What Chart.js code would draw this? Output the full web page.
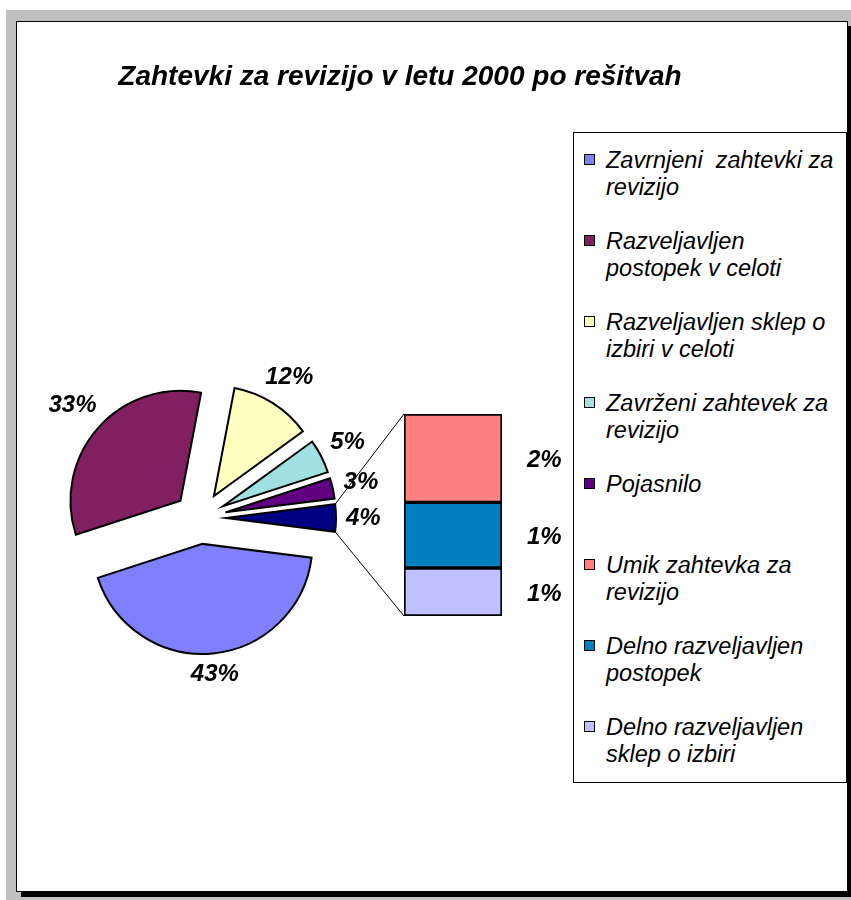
<!DOCTYPE html>
<html>
<head>
<meta charset="utf-8">
<script src="https://cdn.jsdelivr.net/npm/chart.js@4.4.1/dist/chart.umd.min.js"></script>
<style>
    html, body {
        margin: 0;
        padding: 0;
        width: 851px;
        height: 900px;
        overflow: hidden;
        background: #fff;
        font-family: 'Liberation Sans', Arial, sans-serif;
    }
    .backdrop {
        position: absolute;
        left: 6px;
        top: 10px;
        width: 845px;
        height: 890px;
        background: #c0c0c0;
    }
    .sheet {
        position: absolute;
        left: 16px;
        top: 21px;
        width: 830px;
        height: 869px;
        border: 1px solid #000;
        background: #fff;
        box-shadow: 5px 5px 0 #000;
    }
    .sheet canvas {
        position: absolute;
        left: 0;
        top: 0;
    }
    .title {
        position: absolute;
        left: 0;
        top: 38px;
        width: 766px;
        text-align: center;
        font-size: 28px;
        line-height: 32px;
        font-weight: bold;
        font-style: italic;
    }
    .legend {
        position: absolute;
        left: 556px;
        top: 110px;
        width: 272px;
        height: 649px;
        border: 1px solid #000;
        background: #fff;
    }
    .legend-item {
        position: relative;
        height: 81px;
        box-sizing: border-box;
        padding: 14px 0 0 32px;
        font-size: 23.5px;
        line-height: 27px;
        font-style: italic;
        white-space: pre;
    }
    .legend-item .box {
        position: absolute;
        left: 10px;
        top: 21px;
        width: 9px;
        height: 9px;
        border: 1.5px solid #000;
    }
</style>
</head>
<body>
<div class="backdrop"></div>
<div class="sheet">
    <canvas id="pieChart" width="830" height="869"></canvas>
    <canvas id="barChart" width="830" height="869"></canvas>
    <div class="title" id="title"></div>
    <div class="legend" id="legend"></div>
</div>
<script>
const chartTitle = 'Zahtevki za revizijo v letu 2000 po rešitvah';

// main pie slices (the last pie slice is the sum of the bar parts)
const pieLabels = [
    ['Zavrnjeni  zahtevki za', 'revizijo'],
    ['Razveljavljen', 'postopek v celoti'],
    ['Razveljavljen sklep o', 'izbiri v celoti'],
    ['Zavrženi zahtevek za', 'revizijo'],
    ['Pojasnilo']
];
const pieValues = [43, 33, 12, 5, 3];
const pieColors = ['#8080ff', '#802060', '#ffffc0', '#a0e0e0', '#600080'];
const otherColor = '#000080';

// breakdown of the "other" slice, top to bottom in the bar
const barLabels = [
    ['Umik zahtevka za', 'revizijo'],
    ['Delno razveljavljen', 'postopek'],
    ['Delno razveljavljen', 'sklep o izbiri']
];
const barValues = [1.75, 1.3, 0.95];
const barColors = ['#ff8080', '#0080c0', '#c0c0ff'];

const EXPLODE = 26;
const LABEL_FONT = "italic bold 24px 'Liberation Sans', Arial, sans-serif";

const otherValue = barValues.reduce((a, b) => a + b, 0);
const allPieValues = pieValues.concat([otherValue]);
const pieTotal = allPieValues.reduce((a, b) => a + b, 0);

document.getElementById('title').textContent = chartTitle;

// legend
const legendEl = document.getElementById('legend');
pieLabels.concat(barLabels).forEach((lines, i) => {
    const color = pieColors.concat(barColors)[i];
    const item = document.createElement('div');
    item.className = 'legend-item';
    const box = document.createElement('span');
    box.className = 'box';
    box.style.background = color;
    item.appendChild(box);
    item.appendChild(document.createTextNode(lines.join('\n')));
    legendEl.appendChild(item);
});

// draw every slice pushed out along its middle angle
const explodePlugin = {
    id: 'explode',
    beforeDatasetDraw(chart, args) {
        const ctx = chart.ctx;
        args.meta.data.forEach(arc => {
            const mid = (arc.startAngle + arc.endAngle) / 2;
            ctx.save();
            ctx.translate(Math.cos(mid) * EXPLODE, Math.sin(mid) * EXPLODE);
            arc.draw(ctx, chart.chartArea);
            ctx.restore();
        });
        return false;
    }
};

const pieLabelPlugin = {
    id: 'pieLabels',
    afterDatasetsDraw(chart) {
        const ctx = chart.ctx;
        const meta = chart.getDatasetMeta(0);
        const data = chart.data.datasets[0].data;
        ctx.save();
        ctx.font = LABEL_FONT;
        ctx.fillStyle = '#000';
        ctx.textAlign = 'center';
        ctx.textBaseline = 'middle';
        meta.data.forEach((arc, i) => {
            const text = Math.round(data[i] / pieTotal * 100) + '%';
            const mid = (arc.startAngle + arc.endAngle) / 2;
            const cos = Math.cos(mid);
            const sin = Math.sin(mid);
            const w = ctx.measureText(text).width;
            const d = arc.outerRadius + EXPLODE + 10 + Math.abs(cos) * w / 2 + Math.abs(sin) * 9;
            ctx.fillText(text, arc.x + cos * d, arc.y + sin * d);
        });
        ctx.restore();
    }
};

const pieChart = new Chart(document.getElementById('pieChart'), {
    type: 'pie',
    data: {
        labels: pieLabels.map(l => l.join(' ')).concat(['']),
        datasets: [{
            data: allPieValues,
            backgroundColor: pieColors.concat([otherColor]),
            borderColor: '#000',
            borderWidth: 2,
            borderJoinStyle: 'miter'
        }]
    },
    options: {
        responsive: false,
        animation: false,
        radius: 110,
        // other slice centred on 3 o'clock
        rotation: 90 + otherValue / pieTotal * 180,
        layout: {
            padding: { left: 0, right: 464, top: 300, bottom: 177 }
        },
        plugins: {
            legend: { display: false },
            tooltip: { enabled: false }
        }
    },
    plugins: [explodePlugin, pieLabelPlugin]
});

const barLabelPlugin = {
    id: 'barLabels',
    afterDatasetsDraw(chart) {
        const ctx = chart.ctx;
        ctx.save();
        ctx.font = LABEL_FONT;
        ctx.fillStyle = '#000';
        ctx.textAlign = 'left';
        ctx.textBaseline = 'middle';
        chart.data.datasets.forEach((ds, i) => {
            const bar = chart.getDatasetMeta(i).data[0];
            const text = Math.round(ds.data[0]) + '%';
            ctx.fillText(text, bar.x + bar.width / 2 + 25, (bar.y + bar.base) / 2 + 2);
        });
        ctx.restore();
    }
};

// thin lines joining the "other" slice to the bar
const connectorPlugin = {
    id: 'connector',
    afterDatasetsDraw(chart) {
        const ctx = chart.ctx;
        const pieMeta = pieChart.getDatasetMeta(0);
        const other = pieMeta.data[pieMeta.data.length - 1];
        const mid = (other.startAngle + other.endAngle) / 2;
        const cx = other.x + Math.cos(mid) * EXPLODE;
        const cy = other.y + Math.sin(mid) * EXPLODE;
        const r = other.outerRadius;
        const bars = chart.data.datasets.map((ds, i) => chart.getDatasetMeta(i).data[0]);
        const left = bars[0].x - bars[0].width / 2;
        const top = Math.min(...bars.map(b => Math.min(b.y, b.base)));
        const bottom = Math.max(...bars.map(b => Math.max(b.y, b.base)));
        ctx.save();
        ctx.strokeStyle = '#000';
        ctx.lineWidth = 1;
        ctx.beginPath();
        ctx.moveTo(cx + Math.cos(other.startAngle) * r, cy + Math.sin(other.startAngle) * r);
        ctx.lineTo(left, top);
        ctx.moveTo(cx + Math.cos(other.endAngle) * r, cy + Math.sin(other.endAngle) * r);
        ctx.lineTo(left, bottom);
        ctx.stroke();
        ctx.restore();
    }
};

const barChart = new Chart(document.getElementById('barChart'), {
    type: 'bar',
    data: {
        labels: [''],
        datasets: barLabels.map((lines, i) => ({
            label: lines.join(' '),
            data: [barValues[i]],
            backgroundColor: barColors[i],
            borderColor: '#000',
            borderWidth: 2,
            borderSkipped: false,
            barPercentage: 1,
            categoryPercentage: 1
        }))
    },
    options: {
        responsive: false,
        animation: false,
        layout: {
            padding: { left: 387, right: 345, top: 392, bottom: 275 }
        },
        plugins: {
            legend: { display: false },
            tooltip: { enabled: false }
        },
        scales: {
            x: { display: false, stacked: true },
            y: { display: false, stacked: true, reverse: true, min: 0, max: otherValue }
        }
    },
    plugins: [barLabelPlugin, connectorPlugin]
});
</script>
</body>
</html>
